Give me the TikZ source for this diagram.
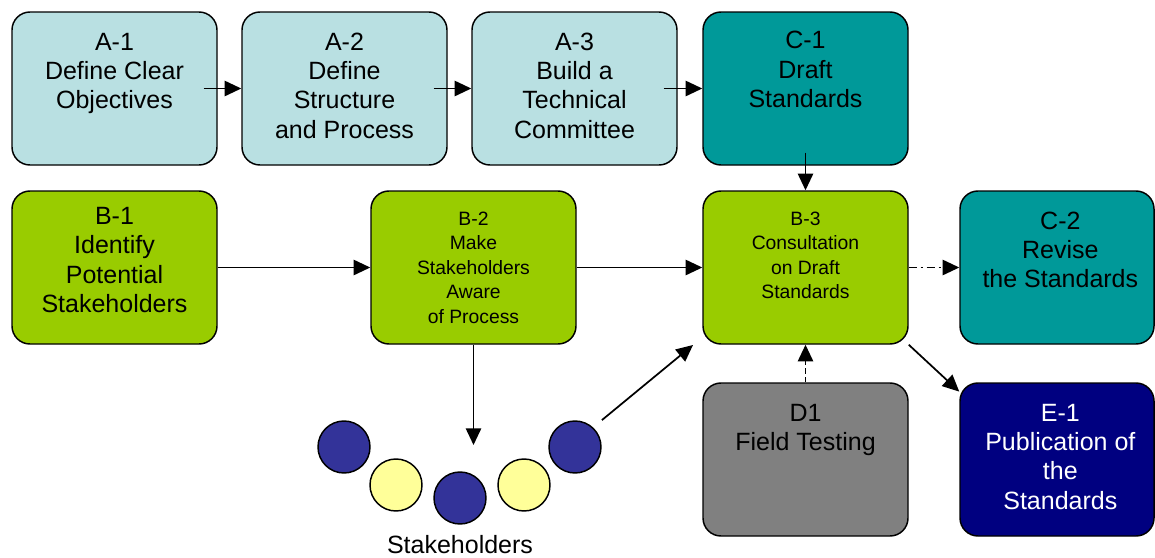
\documentclass[tikz,border=0pt]{standalone}
\usepackage{fontspec}
\setmainfont{Liberation Sans}
\usetikzlibrary{arrows.meta}

\definecolor{paleteal}{HTML}{B9E0E2}
\definecolor{stdteal}{HTML}{009999}
\definecolor{limegreen}{HTML}{99CC00}
\definecolor{fieldgray}{HTML}{808080}
\definecolor{pubnavy}{HTML}{000080}
\definecolor{dotblue}{HTML}{333399}
\definecolor{dotyellow}{HTML}{FFFF99}

% text of a card: fixed-size box, first baseline #2 below the top edge
\newcommand{\cardtext}[3]{\parbox[c][114.75pt][t]{#1}{\centering\rule{0pt}{#2}#3}}

\tikzset{
  card/.style={draw=black, line width=1.1pt, rounded corners=13.5pt,
    inner sep=0pt, minimum width=153.75pt, minimum height=114.75pt,
    font=\fontsize{18.75pt}{22pt}\selectfont},
  smallcard/.style={card, font=\fontsize{14.5pt}{18.4pt}\selectfont},
  flow/.style={-{Triangle[length=12.5pt,width=11.5pt]}, line width=1.3pt},
  dot/.style={circle, draw=black, line width=1.1pt, minimum size=39pt, inner sep=0pt},
}

\begin{document}
\begin{tikzpicture}[x=0.75pt, y=-0.75pt]
\clip (0,0) rectangle (1155,557);
\fill[white] (0,0) rectangle (1155,557);

% planning row
\node[card, fill=paleteal] (a1) at (114.5,88.5)
  {\cardtext{153.75pt}{28.5pt}{A-1\\Define Clear\\Objectives}};
\node[card, fill=paleteal] (a2) at (344.5,88.5)
  {\cardtext{153.75pt}{28.5pt}{A-2\\Define\\Structure\\and Process}};
\node[card, fill=paleteal] (a3) at (574.5,88.5)
  {\cardtext{153.75pt}{28.5pt}{A-3\\Build a\\Technical\\Committee}};
\node[card, fill=stdteal] (c1) at (805.5,88.5)
  {\cardtext{153.75pt}{27.5pt}{C-1\\Draft\\Standards}};

% stakeholder row
\node[card, fill=limegreen] (b1) at (114.5,267.5)
  {\cardtext{153.75pt}{25pt}{B-1\\Identify\\Potential\\Stakeholders}};
\node[smallcard, fill=limegreen] (b2) at (473.5,267.5)
  {\cardtext{153.75pt}{25.5pt}{B-2\\Make\\Stakeholders\\Aware\\of Process}};
\node[smallcard, fill=limegreen] (b3) at (805.5,267.5)
  {\cardtext{153.75pt}{25.5pt}{B-3\\Consultation\\on Draft\\Standards}};
\node[card, fill=stdteal, minimum width=145.5pt] (c2) at (1057,267.5)
  {\cardtext{145.5pt}{28.5pt}{\hspace*{5pt}C-2\\\hspace*{5pt}Revise\\\hspace*{5pt}the Standards}};

% bottom row
\node[card, fill=fieldgray] (d1) at (805.5,459.5)
  {\cardtext{153.75pt}{28.5pt}{D1\\Field Testing}};
\node[card, fill=pubnavy, text=white, minimum width=145.5pt] (e1) at (1057,459.5)
  {\cardtext{145.5pt}{28.5pt}{\hspace*{5pt}E-1\\\hspace*{5pt}Publication of\\\hspace*{5pt}the\\\hspace*{5pt}Standards}};

% stakeholder group
\node[dot, fill=dotblue]   (s1) at (344,447) {};
\node[dot, fill=dotyellow] (s2) at (396,485) {};
\node[dot, fill=dotblue]   (s3) at (460,498) {};
\node[dot, fill=dotyellow] (s4) at (524,485) {};
\node[dot, fill=dotblue]   (s5) at (575,447) {};
\node[font=\fontsize{18.75pt}{22pt}\selectfont] (slabel) at (460,545) {Stakeholders};

\coordinate (groupin) at (473.5,445);
\coordinate (b3in) at (693,345);

% connectors
\draw[flow] ([xshift=-10.5pt]a1.east) -- (a2.west);
\draw[flow] ([xshift=-10.5pt]a2.east) -- (a3.west);
\draw[flow] ([xshift=-10.5pt]a3.east) -- (c1.west);
\draw[flow] ([yshift=9.75pt]c1.south) -- (b3.north);
\draw[flow] (b1.east) -- (b2.west);
\draw[flow] (b2.east) -- (b3.west);
\draw[flow] (b2.south) -- (groupin);
\draw[flow] ([shift={(6pt,6pt)}]s5.north east) -- (b3in);
\draw[flow, dash pattern=on 6pt off 3pt on 1.5pt off 3pt] (b3.east) -- (c2.west);
\draw[flow, dash pattern=on 4pt off 2.5pt] (d1.north) -- (b3.south);
\draw[flow] (b3.south east) -- ([yshift=-7pt]e1.north west);
\end{tikzpicture}
\end{document}
